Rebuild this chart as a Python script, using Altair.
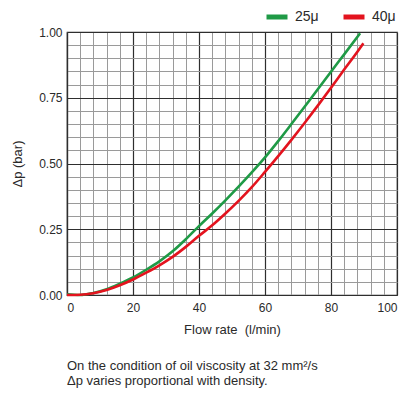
import altair as alt
import pandas as pd

# Data
flow_25 = [0, 4, 8, 12, 16, 20, 24, 28, 32, 36, 40, 44, 48, 52, 56, 60, 64, 68, 72, 76, 80, 84, 88.8]
dp_25 = [0.003, 0.0, 0.008, 0.022, 0.043, 0.067, 0.096, 0.128, 0.166, 0.212, 0.262, 0.31, 0.36,
         0.412, 0.466, 0.523, 0.585, 0.65, 0.716, 0.782, 0.849, 0.915, 0.995]
flow_40 = [0, 4, 8, 12, 16, 20, 24, 28, 32, 36, 40, 44, 48, 52, 56, 60, 64, 68, 72, 76, 80, 84, 88, 89.8]
dp_40 = [0.0, 0.001, 0.007, 0.019, 0.037, 0.059, 0.085, 0.113, 0.145, 0.183, 0.225, 0.265, 0.31,
         0.358, 0.41, 0.468, 0.528, 0.59, 0.654, 0.72, 0.788, 0.857, 0.925, 0.957]
series = ["25μ", "40μ"]
colors = ["#1f9a46", "#e3131e"]

x_major = [0, 20, 40, 60, 80, 100]
x_minor = list(range(0, 101, 4))
y_major = [0, 0.25, 0.5, 0.75, 1.0]
y_minor = [round(i * 0.05, 2) for i in range(21)]

x_title = "Flow rate\u00a0\u00a0(l/min)"
note = ["On the condition of oil viscosity at 32 mm²/s", "Δp varies proportional with density."]

rows = [{"flow": f, "dp": d, "filter": series[0]} for f, d in zip(flow_25, dp_25)]
rows += [{"flow": f, "dp": d, "filter": series[1]} for f, d in zip(flow_40, dp_40)]
df = pd.DataFrame(rows)

FONT = "Liberation Sans"
TXT = "#2a2a2a"

xscale = alt.Scale(domain=[0, 100], nice=False, zero=False)
yscale = alt.Scale(domain=[0, 1], nice=False, zero=False)

base = alt.Chart(df)

minor = base.mark_line(opacity=0).encode(
    x=alt.X("flow:Q", scale=xscale,
            axis=alt.Axis(values=x_minor, labels=False, ticks=False, domain=False, title=None,
                          grid=True, gridColor="#9a9a9a", gridWidth=1, gridOpacity=1, orient="bottom")),
    y=alt.Y("dp:Q", scale=yscale,
            axis=alt.Axis(values=y_minor, labels=False, ticks=False, domain=False, title=None,
                          grid=True, gridColor="#9a9a9a", gridWidth=1, gridOpacity=1, orient="left")),
    detail="filter:N",
)

major = base.mark_line(strokeWidth=2.6, interpolate="monotone").encode(
    x=alt.X("flow:Q", scale=xscale,
            axis=alt.Axis(values=x_major, format="d", title=x_title, grid=True,
                          gridColor="#2e2e2e", gridWidth=1.2, gridOpacity=1, ticks=False,
                          domain=True, domainColor="#2e2e2e", domainWidth=1.2,
                          labelFont=FONT, labelFontSize=12, labelColor=TXT, labelPadding=7,
                          titleFont=FONT, titleFontSize=13, titleFontWeight="normal",
                          titleColor=TXT, titlePadding=10, orient="bottom")),
    y=alt.Y("dp:Q", scale=yscale,
            axis=alt.Axis(values=y_major, format=".2f", title="Δp (bar)", grid=True,
                          gridColor="#2e2e2e", gridWidth=1.2, gridOpacity=1, ticks=False,
                          domain=True, domainColor="#2e2e2e", domainWidth=1.2,
                          labelFont=FONT, labelFontSize=12, labelColor=TXT, labelPadding=5,
                          titleFont=FONT, titleFontSize=13, titleFontWeight="normal",
                          titleColor=TXT, titlePadding=14, orient="left")),
    color=alt.Color("filter:N", scale=alt.Scale(domain=series, range=colors),
                    legend=alt.Legend(title=None, orient="none", direction="horizontal",
                                      legendX=197, legendY=-28, symbolType="stroke",
                                      symbolStrokeWidth=5, symbolSize=441, labelFont=FONT,
                                      labelFontSize=14, labelColor=TXT, labelOffset=5,
                                      columnPadding=14)),
)

chart = alt.layer(minor, major).resolve_axis(x="independent", y="independent").properties(
    width=330,
    height=263,
    autosize=alt.AutoSizeParams(type="none"),
    padding={"left": 59, "top": 24, "right": 13, "bottom": 94},
    title=alt.TitleParams(text=note, orient="bottom", anchor="start", frame="group",
                          font=FONT, fontSize=13, fontWeight="normal", color=TXT,
                          lineHeight=15, offset=24),
).configure_view(stroke="#2e2e2e", strokeWidth=1.2)

chart.save("out.html", embed_options={"renderer": "svg", "actions": False})
